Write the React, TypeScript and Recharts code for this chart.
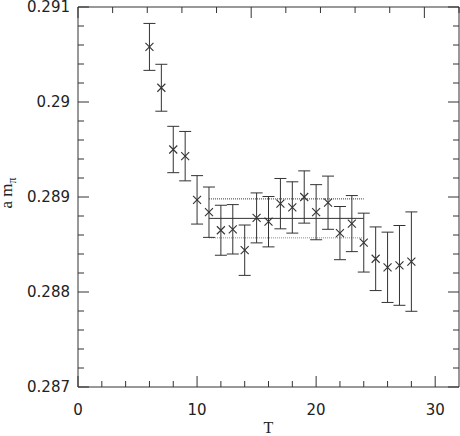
import React from 'react';
import {
    ComposedChart,
    Scatter,
    ErrorBar,
    XAxis,
    YAxis,
    ReferenceLine,
    Label
} from 'recharts';

// time slices and effective pion mass with errors
const slices = [6, 7, 8, 9, 10, 11, 12, 13, 14, 15, 16, 17, 18, 19, 20, 21, 22, 23, 24, 25, 26, 27, 28];
const masses = [
    0.29058, 0.29015, 0.28950, 0.28943, 0.28897, 0.28884, 0.28865, 0.28866, 0.28844, 0.28878, 0.28874,
    0.28893, 0.28889, 0.28900, 0.28884, 0.28894, 0.28862, 0.28872, 0.28852, 0.28835, 0.28826, 0.28828, 0.28832
];
const errors = [
    0.000247, 0.000247, 0.000244, 0.00026, 0.000255, 0.000265, 0.000263, 0.00026, 0.000265, 0.000263, 0.000265,
    0.000265, 0.00027, 0.000275, 0.00029, 0.00028, 0.00028, 0.000295, 0.00031, 0.000335, 0.00037, 0.00042, 0.000523
];

// plateau fit
const fitRange = [11, 24];
const fitValue = 0.288775;
const fitError = 0.000205;

const xTicks = [0, 2, 4, 6, 8, 10, 12, 14, 16, 18, 20, 22, 24, 26, 28, 30];
const yTicks = [
    0.287, 0.2872, 0.2874, 0.2876, 0.2878, 0.288, 0.2882, 0.2884, 0.2886, 0.2888, 0.289,
    0.2892, 0.2894, 0.2896, 0.2898, 0.29, 0.2902, 0.2904, 0.2906, 0.2908, 0.291
];

const data = slices.map((t, i) => ({ t, m: masses[i], err: errors[i] }));

const ink = '#333';
const tickFont = '"DejaVu Sans", sans-serif';
const serif = '"Liberation Serif", "DejaVu Serif", serif';

const isMajorX = (v: number) => v % 10 === 0;
const isMajorY = (v: number) => Math.abs(v * 1000 - Math.round(v * 1000)) < 1e-6;

// ticks point inwards; long for majors, short for minors
function makeTick(side: 'bottom' | 'top' | 'left' | 'right', showLabel: boolean) {
    return (props: any) => {
        const { x, y, payload } = props;
        const v = payload.value;
        const major = side === 'bottom' || side === 'top' ? isMajorX(v) : isMajorY(v);
        const len = major ? 11 : 6;
        let line;
        if (side === 'bottom') line = <line x1={x} x2={x} y1={y} y2={y - len} stroke={ink} />;
        else if (side === 'top') line = <line x1={x} x2={x} y1={y} y2={y + len} stroke={ink} />;
        else if (side === 'left') line = <line x1={x} x2={x + len} y1={y} y2={y} stroke={ink} />;
        else line = <line x1={x} x2={x - len} y1={y} y2={y} stroke={ink} />;
        let label = null;
        if (showLabel && major) {
            const text = String(Number(v.toFixed(4)));
            label = side === 'bottom'
                ? <text x={x} y={y + 28} textAnchor="middle" fontSize={15} fontFamily={tickFont} fill="#222">{text}</text>
                : <text x={x - 8} y={y} dy="0.36em" textAnchor="end" fontSize={15} fontFamily={tickFont} fill="#222">{text}</text>;
        }
        return <g>{line}{label}</g>;
    };
}

const Cross = (props: any) => {
    const { cx, cy } = props;
    const s = 4;
    return (
        <path
            d={`M${cx - s},${cy - s}L${cx + s},${cy + s}M${cx - s},${cy + s}L${cx + s},${cy - s}`}
            stroke={ink}
            strokeWidth={1.1}
            fill="none"
        />
    );
};

export default function App() {
    return (
        <div style={{ position: 'absolute', left: 0, top: 0 }}>
            <ComposedChart width={460} height={436} data={data} margin={{ top: 6, right: 0, bottom: 0, left: 0 }}>
                <XAxis
                    xAxisId="b" dataKey="t" type="number" domain={[0, 32]} allowDataOverflow
                    ticks={xTicks} interval={0} tickSize={0} tickMargin={0} height={49}
                    stroke={ink} tickLine={false} tick={makeTick('bottom', true)}
                >
                    <Label
                        content={({ viewBox }: any) => (
                            <text x={viewBox.x + viewBox.width / 2} y={433} textAnchor="middle" fontSize={16} fontFamily={serif} fill="#222">T</text>
                        )}
                    />
                </XAxis>
                <XAxis
                    xAxisId="t" type="number" orientation="top" domain={[0, 32]} allowDataOverflow
                    ticks={xTicks} interval={0} tickSize={0} tickMargin={0} height={1}
                    stroke={ink} tickLine={false} tick={makeTick('top', false)}
                />
                <YAxis
                    yAxisId="l" type="number" domain={[0.287, 0.291]} allowDataOverflow
                    ticks={yTicks} interval={0} tickSize={0} tickMargin={0} width={78}
                    stroke={ink} tickLine={false} tick={makeTick('left', true)}
                >
                    <Label
                        content={({ viewBox }: any) => {
                            const cx = 12;
                            const cy = viewBox.y + viewBox.height / 2 - 4;
                            return (
                                <text x={cx} y={cy} textAnchor="middle" transform={`rotate(-90, ${cx}, ${cy})`} fontSize={17} fontFamily={serif} fill="#222">
                                    a m<tspan fontSize={12} dy={4}>π</tspan>
                                </text>
                            );
                        }}
                    />
                </YAxis>
                <YAxis
                    yAxisId="r" type="number" orientation="right" domain={[0.287, 0.291]} allowDataOverflow
                    ticks={yTicks} interval={0} tickSize={0} tickMargin={0} width={1}
                    stroke={ink} tickLine={false} tick={makeTick('right', false)}
                />
                <ReferenceLine
                    xAxisId="b" yAxisId="l"
                    segment={[{ x: fitRange[0], y: fitValue + fitError }, { x: fitRange[1], y: fitValue + fitError }]}
                    stroke={ink} strokeDasharray="1 1"
                />
                <ReferenceLine
                    xAxisId="b" yAxisId="l"
                    segment={[{ x: fitRange[0], y: fitValue }, { x: fitRange[1], y: fitValue }]}
                    stroke={ink}
                />
                <ReferenceLine
                    xAxisId="b" yAxisId="l"
                    segment={[{ x: fitRange[0], y: fitValue - fitError }, { x: fitRange[1], y: fitValue - fitError }]}
                    stroke="#888" strokeDasharray="1 1"
                />
                <Scatter xAxisId="b" yAxisId="l" dataKey="m" shape={<Cross />} isAnimationActive={false}>
                    <ErrorBar dataKey="err" direction="y" width={6} stroke={ink} strokeWidth={1} isAnimationActive={false} />
                </Scatter>
            </ComposedChart>
        </div>
    );
}
